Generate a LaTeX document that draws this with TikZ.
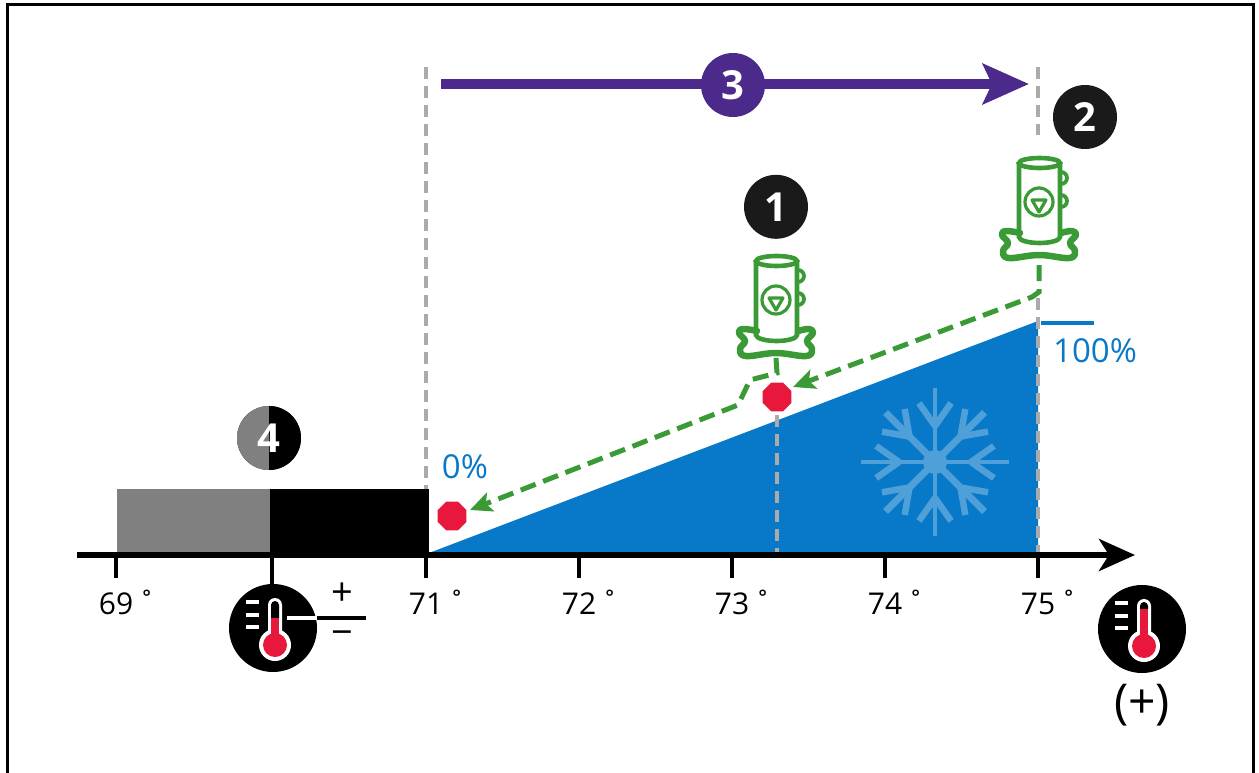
\documentclass[tikz,border=0pt]{standalone}
\usepackage{fontspec}
\setmainfont{Open Sans}
\usetikzlibrary{arrows.meta,positioning,shapes.geometric}
\definecolor{coolBlue}{HTML}{0878C8}
\definecolor{flakeBlue}{HTML}{4F9FD9}
\definecolor{fanGreen}{HTML}{3A9A35}
\definecolor{stageViolet}{HTML}{4B2A8C}
\definecolor{stopRed}{HTML}{E8173C}
\definecolor{guideGray}{HTML}{ABABAB}
\definecolor{badgeBlack}{HTML}{1A1A1A}
\tikzset{
	compressor/.pic={
		\draw[fanGreen, line width=4.6pt] (-20,6) -- (-20,80) arc[start angle=180, end angle=0, x radius=20.5, y radius=6] -- (21,6);
		\draw[fanGreen, line width=4.6pt] (0.5,6) ellipse [x radius=20.5, y radius=5];
		\draw[fanGreen, line width=3.8pt] (22,15) arc[start angle=-90, end angle=90, radius=6] (22,38) arc[start angle=-90, end angle=90, radius=6];
		\draw[fanGreen, line width=3.2pt] (0,45) circle (14);
		\draw[fanGreen, line width=3.2pt, line join=round] (-7,43) -- (7,43) -- (0,55) -- cycle;
		\draw[fanGreen, line width=6.5pt, line join=round, line cap=round] plot[smooth, tension=0.7] coordinates {(-19,76) (-33,74) (-37,78) (-31,86) (-36,94) (-30,101) (0,98) (30,101) (36,94) (31,86) (37,78) (33,74) (22,76)};
	}
}
\begin{document}
\begin{tikzpicture}[x=1pt, y=-1pt, on grid, node distance=16pt]
	\tikzstyle{badge} = [circle, fill=badgeBlack, minimum size=64pt, inner sep=0pt, text=white, font={\fontsize{40}{40}\selectfont\bfseries}];
	\tikzstyle{tick} = [black, line width=4.5pt];
	\tikzstyle{tickLabel} = [font={\fontsize{30}{30}\selectfont}];
	\tikzstyle{percent} = [text=coolBlue, font={\fontsize{33}{33}\selectfont}];
	\tikzstyle{guide} = [guideGray, line width=4pt, dash pattern=on 12pt off 7pt];
	\tikzstyle{stopSign} = [regular polygon, regular polygon sides=8, fill=stopRed, minimum size=31pt, inner sep=0pt];
	\tikzstyle{flow} = [fanGreen, line width=5pt, dash pattern=on 16pt off 8pt, -{Stealth[length=22pt, width=20pt, inset=5pt]}];

	\useasboundingbox (0,0) rectangle (1259,773);
	\draw[black, line width=3pt] (7,773) -- (7,5) -- (1253,5) -- (1253,773);

	% dead band and cooling wedge
	\fill[gray] (117,489) rectangle (270,553);
	\fill[black] (270,489) rectangle (429,555);
	\fill[coolBlue] (429,553) -- (1038,321) -- (1038,553) -- cycle;
	\foreach \a in {0,90,180,270} {
		\draw[flakeBlue, line width=4.5pt] (935,462) -- ++(\a:74);
	}
	\foreach \a in {45,135,225,315} {
		\draw[flakeBlue, line width=7pt] (935,462) -- ++(\a:70);
	}
	\foreach \a in {0,45,...,315} {
		\draw[flakeBlue, line width=6.5pt] (935,462) ++(\a:36) -- ++(\a+35:28);
		\draw[flakeBlue, line width=6.5pt] (935,462) ++(\a:36) -- ++(\a-35:28);
	}
	\fill[flakeBlue] (935,462) circle (12);

	% guides
	\draw[guide] (426,67) -- (426,489);
	\draw[guide] (1038,67) -- (1038,135);
	\draw[guide] (1038,298) -- (1038,553);
	\draw[guide] (777,415) -- (777,553);
	\draw[coolBlue, line width=4.5pt] (1041,323) -- (1094,323);

	% axis and ticks
	\coordinate (axisStart) at (77,555);
	\coordinate (axisEnd) at (1135,555);
	\draw[black, line width=6pt, -{Stealth[length=36pt, width=32pt, inset=10pt]}] (axisStart) -- (axisEnd);
	\foreach \nm/\xc/\deg in {a/116/69, c/426/71, d/579/72, e/732/73, f/885/74, g/1038/75} {
		\coordinate (tick\nm) at (\xc,555);
		\draw[tick] (tick\nm) -- ++(0,23);
		\node[tickLabel, below=32pt of tick\nm] (label\nm) {\deg\rlap{\,˚}};
	}
	\coordinate (tickb) at (272,555);
	\draw[tick] (tickb) -- ++(0,30);

	% thermometers
	\foreach \nm/\xc/\yc/\lvl in {thermoSet/273/628/-10, thermoHot/1142/629/-20} {
		\begin{scope}[shift={(\xc,\yc)}]
			\node[circle, fill=black, minimum size=88pt, inner sep=0pt] (\nm) at (0,0) {};
			\foreach \ly in {-26,-13,-1} {
				\draw[white, line width=4pt] (-27,\ly) -- (-14,\ly);
			}
			\fill[white] (-5,-23) arc[start angle=180, end angle=360, radius=7] -- (9,5) -- (-5,5) -- cycle;
			\fill[white] (2,17) circle (16);
			\fill[black] (-2,-23) arc[start angle=180, end angle=360, radius=4] -- (6,\lvl) -- (-2,\lvl) -- cycle;
			\fill[stopRed] (-2,\lvl) rectangle (6,10);
			\fill[stopRed] (2,17) circle (12);
		\end{scope}
	}
	\coordinate (setEnd) at (366,618);
	\coordinate (setEdge) at (317,618);
	\draw[white, line width=4pt] (287,618) -- (setEdge);
	\draw[black, line width=4pt] (setEdge) -- (setEnd);
	\node[inner sep=0pt, font={\fontsize{38}{38}\selectfont}] (plus) at (342,594) {+};
	\node[inner sep=0pt, font={\fontsize{38}{38}\selectfont}] (minus) at (342,638) {−};
	\node[font={\fontsize{48}{48}\selectfont}, below=76pt of thermoHot] (hot) {(+)};

	% percentages
	\node[percent] (zero) at (465,467) {0\%};
	\node[percent] (full) at (1095,351) {100\%};

	% stage arrow
	\coordinate (stageStart) at (441,84);
	\coordinate (stageEnd) at (1029,84);
	\draw[stageViolet, line width=10pt, -{Stealth[length=46pt, width=40pt, inset=9pt]}] (stageStart) -- (stageEnd);
	\node[badge, fill=stageViolet] (three) at (733,85) {3};

	% compressors
	\coordinate (compA) at (776,255);
	\coordinate (compB) at (1039,157);
	\pic at (compA) {compressor};
	\pic at (compB) {compressor};
	\node[badge] (one) [above=of compA] {1};
	\node[badge] (two) at (1085,117) {2};

	% badge 4 is split in two
	\node[badge] (four) at (269,438) {};
	\fill[gray] (269,406) arc[start angle=90, end angle=270, radius=32, y radius=-32] -- cycle;
	\fill[black] (269,406) arc[start angle=90, end angle=-90, radius=32, y radius=-32] -- cycle;
	\node[text=white, font={\fontsize{40}{40}\selectfont\bfseries}] (fourText) at (four) {4};

	% staging flow
	\node[stopSign] (stopLow) at (452,516) {};
	\node[stopSign] (stopMid) at (777,397) {};
	\coordinate (bendA) at (777,373);
	\coordinate (bendB) at (750,380);
	\coordinate (bendC) at (738,405);
	\coordinate (bendD) at (1039,292);
	\draw[flow] (776,358) -- (bendA) -- (bendB) -- (bendC) -- (470,510);
	\draw[flow] (1039,265) -- (bendD) -- (1032,297) -- (793,387);
\end{tikzpicture}
\end{document}
